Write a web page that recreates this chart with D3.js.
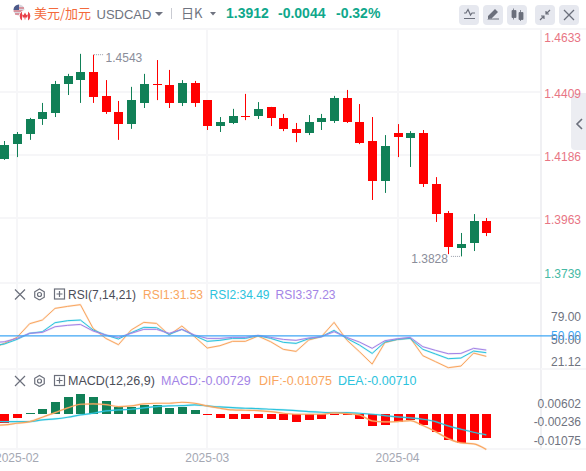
<!DOCTYPE html>
<html>
<head>
<meta charset="utf-8">
<title>USDCAD</title>
<script src="https://d3js.org/d3.v7.min.js"></script>
<style>
  html, body { margin: 0; padding: 0; background: #fff; overflow: hidden; }
  svg { display: block; }
  text { font-family: "Liberation Sans", Arial, sans-serif; }
  .grid { stroke: #f6f6f8; stroke-width: 1.2; shape-rendering: crispEdges; }
  .tick-label { font-size: 12px; text-anchor: end; dominant-baseline: central; }
  .pane-title { font-size: 12px; dominant-baseline: central; }
  .icon { fill: none; stroke: #6b6f7b; stroke-width: 1.2; }
</style>
</head>
<body>
<script>
// daily candles, one entry per visible day
var opens  = [1.4173,1.4226,1.4262,1.4315,1.4336,1.4439,1.4453,1.4482,1.4397,1.4340,1.4297,1.4372,1.4439,1.4436,1.4372,1.4443,1.4382,1.4290,1.4301,1.4326,1.4326,1.4358,1.4319,1.4280,1.4265,1.4304,1.4308,1.4390,1.4304,1.4237,1.4095,1.4265,1.4248,1.4265,1.4085,1.3982,1.3858,1.3875,1.3954];
var highs  = [1.4237,1.4269,1.4319,1.4372,1.4450,1.4475,1.4546,1.4543,1.4453,1.4379,1.4429,1.4475,1.4524,1.4489,1.4453,1.4450,1.4382,1.4322,1.4351,1.4404,1.4375,1.4358,1.4333,1.4301,1.4329,1.4333,1.4397,1.4418,1.4368,1.4322,1.4258,1.4297,1.4272,1.4276,1.4109,1.3989,1.3911,1.3978,1.3964];
var lows   = [1.4170,1.4180,1.4241,1.4294,1.4322,1.4400,1.4372,1.4372,1.4333,1.4241,1.4280,1.4354,1.4382,1.4354,1.4361,1.4358,1.4276,1.4269,1.4297,1.4311,1.4315,1.4290,1.4272,1.4233,1.4258,1.4276,1.4301,1.4301,1.4226,1.4028,1.4053,1.4180,1.4145,1.4074,1.3950,1.3836,1.3828,1.3847,1.3900];
var closes = [1.4223,1.4262,1.4315,1.4340,1.4439,1.4467,1.4482,1.4393,1.4340,1.4297,1.4382,1.4439,1.4436,1.4372,1.4443,1.4372,1.4290,1.4304,1.4326,1.4322,1.4351,1.4319,1.4280,1.4265,1.4304,1.4319,1.4390,1.4304,1.4230,1.4095,1.4219,1.4251,1.4265,1.4085,1.3978,1.3861,1.3872,1.3954,1.3912];

// the indicator lines carry one extra leading value, the day just off the left edge
var rsi1 = [37.8,44.7,52.4,70.0,74.7,89.7,92.3,94.5,64.0,51.1,43.0,61.9,71.7,70.4,55.4,67.0,53.3,38.7,41.7,47.3,47.3,54.1,46.8,37.0,34.4,49.0,53.3,71.7,49.0,34.0,18.1,45.5,49.8,51.6,28.8,21.1,13.4,15.5,32.2,28.0];
var rsi2 = [41.7,43.8,49.8,57.6,59.7,71.3,73.9,74.7,61.9,55.4,50.3,58.4,65.3,64.9,56.3,62.7,54.6,47.3,48.6,51.1,51.1,54.6,51.1,46.0,44.7,50.7,53.3,61.4,51.1,42.5,31.8,46.4,49.8,51.1,37.0,31.0,25.0,25.8,34.8,32.7];
var rsi3 = [45.5,46.8,51.1,57.6,58.8,66.1,67.9,69.1,60.6,55.4,52.4,57.6,62.7,62.7,57.6,62.7,55.4,51.1,51.1,52.4,52.4,55.0,52.4,49.8,48.6,51.6,53.3,59.7,52.4,46.4,38.3,48.1,50.7,52.4,40.4,35.7,31.4,31.8,38.3,36.1];
var rsiLevel = 54.4;

var macdBars = [-0.00262,-0.00121,0.0002,0.00151,0.00363,0.00514,0.00604,0.00514,0.00393,0.00211,0.00211,0.00272,0.00272,0.00181,0.00211,0.00121,-0.0002,-0.00121,-0.00151,-0.00151,-0.00121,-0.00151,-0.00181,-0.00242,-0.00181,-0.00151,-0.0002,-0.0002,-0.00151,-0.00363,-0.00332,-0.00242,-0.00181,-0.00332,-0.00544,-0.00785,-0.00876,-0.00785,-0.00729];
var dif = [-0.00342,-0.00332,-0.00282,-0.00232,-0.00101,0.0004,0.00181,0.00292,0.00302,0.00282,0.00222,0.00242,0.00302,0.00322,0.00322,0.00352,0.00322,0.00242,0.00171,0.00121,0.00111,0.00101,0.0007,0.0002,-0.0001,-0.0001,-0.0001,0.0003,0.0001,-0.0003,-0.00211,-0.00242,-0.00232,-0.00201,-0.00352,-0.00534,-0.00745,-0.00876,-0.00906,-0.01075];
var dea = [-0.00211,-0.00232,-0.00232,-0.00232,-0.00181,-0.00151,-0.00101,-0.0003,0.0002,0.00091,0.00121,0.00141,0.00181,0.00222,0.00242,0.00252,0.00272,0.00242,0.00211,0.00191,0.00171,0.00161,0.00141,0.00121,0.00101,0.0007,0.0005,0.0004,0.0004,0.0002,-0.0001,-0.0005,-0.00091,-0.00121,-0.00161,-0.00232,-0.00363,-0.00463,-0.00554,-0.00634];

var priceTicks = ["1.4633","1.4409","1.4186","1.3963","1.3739"];
var rsiTicks = ["79.00","50.00","21.12"];
var macdTicks = ["0.00602","-0.00236","-0.01075"];
var dateLabels = ["2025-02","2025-03","2025-04"];
var dateIndex = [1,16,31];

var width = 586, height = 471;
var up = "#118057", down = "#ff0000";
var orange = "#f9a660", cyan = "#2cc3dd", purple = "#a384e6";
var axisX = 541, labelX = 581;

var svg = d3.select("body").append("svg")
    .attr("width", width)
    .attr("height", height);

svg.append("rect").attr("width", width).attr("height", height).attr("fill", "#fff");

var x = d3.scaleLinear().domain([0, 38]).range([4.3, 486.3]);
var yPrice = d3.scaleLinear().domain([1.3739, 1.4633]).range([281.5, 29.3]);
var yRsi = d3.scaleLinear().domain([21.12, 79]).range([361.7, 316.7]);
var yMacd = d3.scaleLinear().domain([-0.01075, 0.00602]).range([449.5, 394]);

function clamp(v, a, b) { return Math.max(a, Math.min(b, v)); }

// collapse tab on the right, sits under the price labels
svg.append("path").attr("d", "M586 93H575Q571 93 571 97V146Q571 150 575 150H586Z").attr("fill", "#ecedf2");
svg.append("path").attr("class", "icon").attr("d", "M582 119L577 124L582 129").style("stroke-width", 1.6);

// grid
var grid = svg.append("g");
var hLines = priceTicks.slice(0, 4).map(function(d) { return yPrice(+d); }).concat([283, 369, 449]);
grid.selectAll("line.h").data(hLines).enter().append("line")
    .attr("class", "grid h")
    .attr("x1", 0).attr("x2", axisX)
    .attr("y1", function(d) { return Math.round(d); })
    .attr("y2", function(d) { return Math.round(d); });
grid.selectAll("line.v").data(dateIndex).enter().append("line")
    .attr("class", "grid v")
    .attr("x1", function(d) { return Math.round(x(d)); })
    .attr("x2", function(d) { return Math.round(x(d)); })
    .attr("y1", 29).attr("y2", 449);
grid.append("line").attr("class", "grid")
    .attr("x1", axisX).attr("x2", axisX).attr("y1", 29).attr("y2", 449)
    .style("stroke", "#f0f0f3");
grid.append("line").attr("class", "grid")
    .attr("x1", axisX).attr("x2", width).attr("y1", 369).attr("y2", 369);
grid.append("line").attr("class", "grid")
    .attr("x1", axisX).attr("x2", width).attr("y1", 449).attr("y2", 449);
grid.append("line").attr("class", "grid")
    .attr("x1", 0).attr("x2", width).attr("y1", 29).attr("y2", 29);

// candles
var candles = svg.append("g").selectAll("g")
    .data(d3.range(opens.length))
    .enter().append("g")
    .attr("fill", function(i) { return closes[i] >= opens[i] ? up : down; })
    .attr("stroke", function(i) { return closes[i] >= opens[i] ? up : down; });

candles.append("line")
    .attr("x1", function(i) { return Math.round(x(i)) + 0.5; })
    .attr("x2", function(i) { return Math.round(x(i)) + 0.5; })
    .attr("y1", function(i) { return yPrice(highs[i]); })
    .attr("y2", function(i) { return yPrice(lows[i]); })
    .attr("stroke-width", 1);

candles.append("rect")
    .attr("stroke", "none")
    .attr("x", function(i) { return Math.round(x(i)) - 4; })
    .attr("width", 9)
    .attr("y", function(i) { return Math.round(yPrice(Math.max(opens[i], closes[i]))); })
    .attr("height", function(i) {
      return Math.max(1, Math.round(yPrice(Math.min(opens[i], closes[i]))) - Math.round(yPrice(Math.max(opens[i], closes[i]))));
    });

// max / min markers
var hiIdx = 7, loIdx = 36;
svg.append("line")
    .attr("x1", x(hiIdx) + 1).attr("x2", x(hiIdx) + 10)
    .attr("y1", yPrice(highs[hiIdx])).attr("y2", yPrice(highs[hiIdx]))
    .attr("stroke", "#9a9daa").attr("stroke-dasharray", "1,1");
svg.append("text")
    .attr("x", x(hiIdx) + 12.5).attr("y", yPrice(highs[hiIdx]) + 3)
    .attr("class", "pane-title").attr("fill", "#8a8d9a").text("1.4543");
svg.append("line")
    .attr("x1", x(loIdx) - 10).attr("x2", x(loIdx) - 1)
    .attr("y1", yPrice(lows[loIdx])).attr("y2", yPrice(lows[loIdx]))
    .attr("stroke", "#9a9daa").attr("stroke-dasharray", "1,1");
svg.append("text")
    .attr("x", x(loIdx) - 13).attr("y", yPrice(lows[loIdx]) + 2.5)
    .attr("class", "pane-title").attr("text-anchor", "end").attr("fill", "#8a8d9a").text("1.3828");

// price axis labels, the first and last are pushed inside the pane
svg.append("g").selectAll("text")
    .data(priceTicks)
    .enter().append("text")
    .attr("class", "tick-label")
    .attr("x", labelX)
    .attr("y", function(d) { return clamp(yPrice(+d) + 1.8, 37.5, 274); })
    .attr("fill", function(d) { return +d < closes[closes.length - 1] ? "#45b9a4" : "#e87584"; })
    .text(function(d) { return d; });

// RSI pane
function lineOf(yScale, curve) {
  return d3.line()
    .x(function(d, i) { return x(i - 1); })
    .y(function(d) { return yScale(d); })
    .curve(curve);
}
function drawLine(values, color, gen, w) {
  svg.append("path").datum(values)
    .attr("fill", "none").attr("stroke", color).attr("stroke-opacity", 0.22)
    .attr("stroke-width", w + 1).attr("d", gen);
  svg.append("path").datum(values)
    .attr("fill", "none").attr("stroke", color)
    .attr("stroke-width", w).attr("d", gen);
}

var rsiLine = lineOf(yRsi, d3.curveLinear);
drawLine(rsi1, orange, rsiLine, 1);
drawLine(rsi2, cyan, rsiLine, 1);
drawLine(rsi3, purple, rsiLine, 1);

svg.append("line")
    .attr("x1", 0).attr("x2", 552)
    .attr("y1", yRsi(rsiLevel)).attr("y2", yRsi(rsiLevel))
    .attr("stroke", "#3ea6f5").attr("stroke-width", 1.2);

svg.append("g").selectAll("text")
    .data(rsiTicks)
    .enter().append("text")
    .attr("class", "tick-label")
    .attr("x", labelX)
    .attr("y", function(d) { return yRsi(+d) + 0.5; })
    .attr("fill", "#6f7380")
    .text(function(d) { return d; });
svg.append("text")
    .attr("class", "tick-label")
    .attr("x", labelX).attr("y", yRsi(rsiLevel) + 0.5)
    .attr("fill", "#3ea6f5")
    .text("50.00");

// MACD pane
svg.append("g").selectAll("rect")
    .data(macdBars)
    .enter().append("rect")
    .attr("x", function(d, i) { return Math.round(x(i)) - 4; })
    .attr("width", 9)
    .attr("y", function(d) { return Math.round(yMacd(Math.max(d, 0))); })
    .attr("height", function(d) { return Math.max(1, Math.abs(Math.round(yMacd(d)) - Math.round(yMacd(0)))); })
    .attr("fill", function(d) { return d >= 0 ? up : down; });

var macdLine = lineOf(yMacd, d3.curveMonotoneX);
drawLine(dea, cyan, macdLine, 1.2);
drawLine(dif, orange, macdLine, 1.2);

svg.append("g").selectAll("text")
    .data(macdTicks)
    .enter().append("text")
    .attr("class", "tick-label")
    .attr("x", labelX)
    .attr("y", function(d) { return clamp(yMacd(+d), 403.5, 440.5); })
    .attr("fill", "#6f7380")
    .text(function(d) { return d; });

// dates
svg.append("g").selectAll("text")
    .data(dateLabels)
    .enter().append("text")
    .attr("class", "pane-title")
    .attr("text-anchor", "middle")
    .attr("x", function(d, i) { return x(dateIndex[i]); })
    .attr("y", 458)
    .attr("fill", "#a5a8b3")
    .text(function(d) { return d; });

// pane header rows
function paneHeader(cy, name, items, size) {
  var g = svg.append("g");
  g.append("path").attr("class", "icon")
    .attr("d", "M15 " + (cy - 5) + "L25 " + (cy + 5) + "M25 " + (cy - 5) + "L15 " + (cy + 5));
  g.append("path").attr("class", "icon")
    .attr("d", d3.line()(d3.range(7).map(function(k) {
      var a = Math.PI / 3 * k;
      return [39.5 + 5.5 * Math.sin(a), cy + 5.5 * Math.cos(a)];
    })));
  g.append("circle").attr("class", "icon").attr("cx", 39.5).attr("cy", cy).attr("r", 2);
  g.append("rect").attr("class", "icon").attr("x", 54.5).attr("y", cy - 5.5).attr("width", 10).attr("height", 10);
  g.append("path").attr("class", "icon")
    .attr("d", "M56.5 " + (cy - 0.5) + "H62.5M59.5 " + (cy - 3.5) + "V" + (cy + 2.5));
  g.append("text").attr("class", "pane-title").attr("x", 68).attr("y", cy)
    .style("font-size", size)
    .attr("fill", "#4a4d58").text(name);
  g.selectAll("text.val").data(items).enter().append("text")
    .attr("class", "pane-title val")
    .style("font-size", size)
    .attr("x", function(d) { return d.x; })
    .attr("y", cy)
    .attr("fill", function(d) { return d.c; })
    .text(function(d) { return d.t; });
}
paneHeader(294.5, "RSI(7,14,21)", [
  { t: "RSI1:31.53", x: 143, c: orange },
  { t: "RSI2:34.49", x: 209.5, c: cyan },
  { t: "RSI3:37.23", x: 275.5, c: purple }
], "12px");
paneHeader(381, "MACD(12,26,9)", [
  { t: "MACD:-0.00729", x: 161, c: purple },
  { t: "DIF:-0.01075", x: 259, c: orange },
  { t: "DEA:-0.00710", x: 338, c: cyan }
], "12.5px");

// top bar
var bar = svg.append("g");
// little flags
var usFlag = bar.append("g");
usFlag.append("circle").attr("cx", 19).attr("cy", 10).attr("r", 5.5).attr("fill", "#d9d6de");
usFlag.append("path").attr("d", "M14 8H24M13.6 11H24.4M15 14H23").attr("stroke", "#d8535f").attr("stroke-width", 1.2);
usFlag.append("path").attr("d", "M19 4.5A5.5 5.5 0 0 0 13.5 10H19Z").attr("fill", "#4c5a8a");
var caFlag = bar.append("g");
caFlag.append("circle").attr("cx", 25).attr("cy", 16).attr("r", 5.5).attr("fill", "#fff").attr("stroke", "#fff");
caFlag.append("path").attr("d", "M22 11.5A5.5 5.5 0 0 0 22 20.5ZM28 11.5A5.5 5.5 0 0 1 28 20.5Z").attr("fill", "#e8414a");
caFlag.append("path").attr("d", "M25 12.5L26.3 15L28 14.6L27.2 17.5L25.4 17.5V19.5H24.6V17.5L22.8 17.5L22 14.6L23.7 15Z").attr("fill", "#e8414a");

bar.append("text").attr("x", 34).attr("y", 12.5).attr("class", "pane-title")
    .style("font-size", "13px")
    .style("font-family", "'Noto Sans CJK SC'")
    .attr("fill", "#f36a3c").text("美元/加元");
bar.append("text").attr("x", 96.5).attr("y", 14).attr("class", "pane-title")
    .style("font-size", "13px").attr("fill", "#6f7380").text("USDCAD");
bar.append("path").attr("d", "M155 12L163 12L159 16Z").attr("fill", "#6f7380");
bar.append("line").attr("x1", 171.5).attr("x2", 171.5).attr("y1", 8).attr("y2", 19).attr("stroke", "#c9cbd2");
bar.append("text").attr("x", 181).attr("y", 12.5).attr("class", "pane-title")
    .style("font-size", "13px")
    .style("font-family", "'Noto Sans CJK SC'")
    .attr("fill", "#6f7380").text("日K");
bar.append("path").attr("d", "M210 12L216 12L213 15.5Z").attr("fill", "#6f7380");
var quote = [
  { t: "1.3912", x: 226 },
  { t: "-0.0044", x: 278 },
  { t: "-0.32%", x: 336 }
];
bar.selectAll("text.quote").data(quote).enter().append("text")
    .attr("class", "pane-title quote")
    .style("font-size", "14px").style("font-weight", "700")
    .attr("x", function(d) { return d.x; }).attr("y", 13)
    .attr("fill", "#10a88c").text(function(d) { return d.t; });

// toolbar buttons
var btnX = [459, 483, 507, 535, 559];
bar.selectAll("rect.btn").data(btnX).enter().append("rect")
    .attr("class", "btn")
    .attr("x", function(d) { return d; }).attr("y", 5)
    .attr("width", 20).attr("height", 20).attr("rx", 4)
    .attr("fill", "#e6e8ef");
bar.append("path").attr("class", "icon").attr("d", "M464 13H466L468 9.5L470.5 15L472 13H475M464 18.5H475");
bar.append("path").attr("d", "M488 16L495 9L498 12L491 19H488ZM487.5 19.5H499V18.5H494L487.5 19Z").attr("fill", "#6b6f7b");
bar.append("path").attr("d", "M512 10.5h4v7h-4zM513.5 8.5v11M519 12.5h4v7h-4zM520.5 10v11").attr("fill", "#6b6f7b").attr("stroke", "#6b6f7b").attr("stroke-width", 0.8);
bar.append("path").attr("class", "icon").attr("d", "M540 20L544 16M544 19V16H541M550 10L546 14M546 11V14H549");
bar.append("path").attr("class", "icon").attr("d", "M564 10L574 20M574 10L564 20").style("stroke-width", 1.3);
</script>
</body>
</html>
